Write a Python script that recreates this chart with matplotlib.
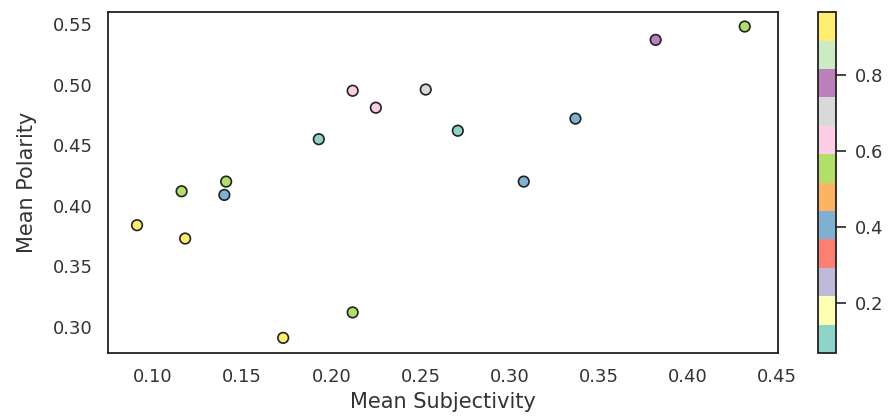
import matplotlib
matplotlib.use("Agg")
import matplotlib.pyplot as plt
import seaborn as sns

# values
subjectivity = [0.091, 0.116, 0.118, 0.141, 0.140, 0.193, 0.212, 0.225,
                0.253, 0.212, 0.173, 0.271, 0.308, 0.337, 0.382, 0.432]
polarity = [0.384, 0.412, 0.373, 0.420, 0.409, 0.455, 0.495, 0.481,
            0.496, 0.312, 0.291, 0.462, 0.420, 0.472, 0.537, 0.548]
shade = [0.967, 0.56, 0.93, 0.56, 0.41, 0.10, 0.63, 0.63,
         0.70, 0.56, 0.94, 0.068, 0.41, 0.41, 0.78, 0.56]


def main():
    sns.set_style("white")
    plt.rcParams["text.color"] = "#333333"
    plt.rcParams["axes.labelcolor"] = "#333333"
    plt.rcParams["xtick.labelcolor"] = "#333333"
    plt.rcParams["ytick.labelcolor"] = "#333333"

    fig = plt.figure(figsize=(8.88, 4.18), dpi=100)
    ax = fig.add_axes([0.1216, 0.1555, 0.7544, 0.8155])
    cax = fig.add_axes([0.921, 0.1555, 0.0203, 0.8155])

    sc = ax.scatter(subjectivity, polarity, c=shade, cmap="Set3",
                    s=58, edgecolors="#222222", linewidths=1.2)
    ax.set_xlim(0.0747, 0.4506)
    ax.set_ylim(0.2785, 0.5599)
    ax.set_xlabel("Mean Subjectivity", fontsize=15, labelpad=4)
    ax.set_ylabel("Mean Polarity", fontsize=15, labelpad=11)
    ax.tick_params(labelsize=13, length=0, pad=11)
    for side in ax.spines.values():
        side.set_color("#222222")
        side.set_linewidth(1.3)

    cb = fig.colorbar(sc, cax=cax)
    cb.set_ticks([0.2, 0.4, 0.6, 0.8])
    cb.ax.tick_params(labelsize=13, length=7, width=1.2, pad=7,
                      right=True, color="#222222")
    cb.outline.set_edgecolor("#222222")
    cb.outline.set_linewidth(1.3)

    fig.savefig("out.png", dpi=100)


if __name__ == "__main__":
    main()
